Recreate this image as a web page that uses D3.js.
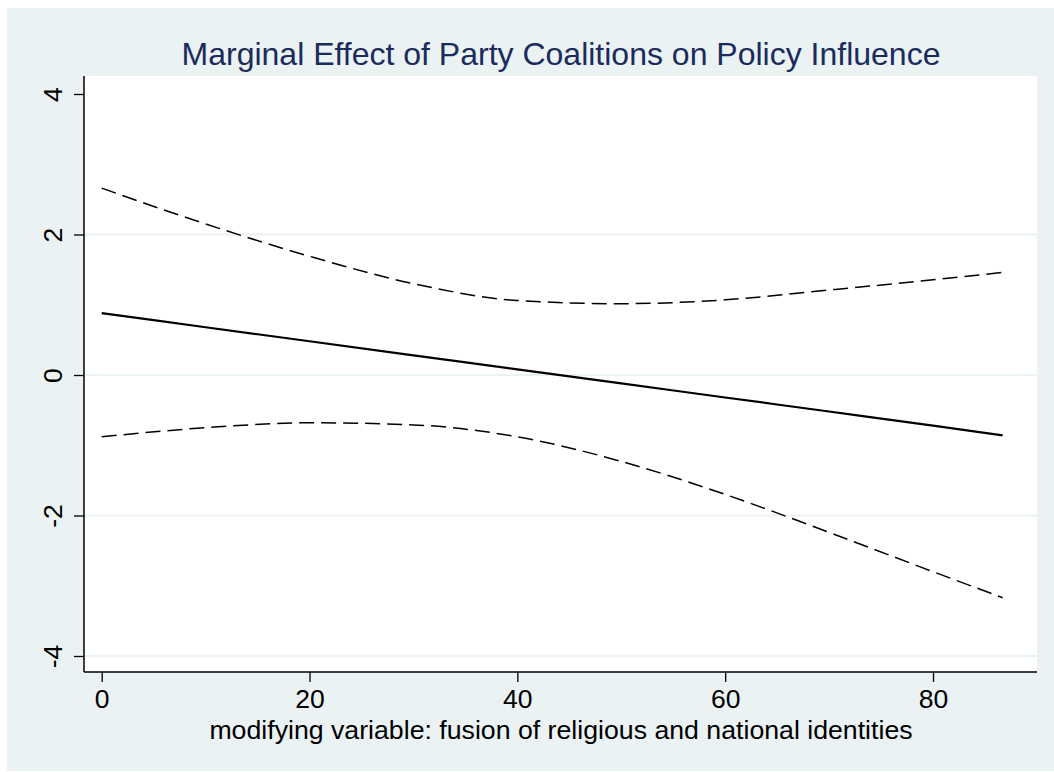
<!DOCTYPE html>
<html>
<head>
<meta charset="utf-8">
<script src="https://cdn.jsdelivr.net/npm/d3@7"></script>
<style>
  body { margin: 0; background: #fff; }
  svg text { font-family: "Liberation Sans", Arial, sans-serif; }
</style>
</head>
<body>
<svg id="chart" width="1054" height="772"></svg>
<script>
// values
var modifier = [0, 10, 20, 30, 40, 50, 60, 70, 80, 86.7];
var effect   = [0.88, 0.68, 0.48, 0.28, 0.08, -0.12, -0.32, -0.52, -0.72, -0.86];
var upperCI  = [2.66, 2.15, 1.69, 1.30, 1.06, 1.015, 1.07, 1.21, 1.355, 1.46];
var lowerCI  = [-0.88, -0.75, -0.68, -0.71, -0.88, -1.23, -1.70, -2.24, -2.80, -3.17];
var xTicks = [0, 20, 40, 60, 80];
var yTicks = [-4, -2, 0, 2, 4];
var yGrid  = [-4, -2, 0, 2];

var title = "Marginal Effect of Party Coalitions on Policy Influence";
var xTitle = "modifying variable: fusion of religious and national identities";

var svg = d3.select("#chart");

// plot region box
var plot = { left: 84, right: 1037, top: 76, bottom: 672 };

var x = d3.scaleLinear().domain([0, 80]).range([101.7, 933]);
var y = d3.scaleLinear().domain([-4, 4]).range([656, 94]);

// plain hyphen for negatives, like the original
var fmt = function(d) { return String(d); };

// outer background
svg.append("rect")
  .attr("x", 7).attr("y", 8)
  .attr("width", 1054 - 7).attr("height", 763)
  .attr("fill", "#eaf2f3");

// plot region
svg.append("rect")
  .attr("x", plot.left).attr("y", plot.top)
  .attr("width", plot.right - plot.left).attr("height", plot.bottom - plot.top)
  .attr("fill", "#ffffff");

// grid lines
svg.append("g").selectAll("line").data(yGrid).enter()
  .append("line")
  .attr("x1", plot.left).attr("x2", plot.right)
  .attr("y1", function(d) { return y(d); })
  .attr("y2", function(d) { return y(d); })
  .attr("stroke", "#eaf2f3")
  .attr("stroke-width", 2);

// y axis
var yAxis = d3.axisLeft(y).tickValues(yTicks).tickSize(10).tickFormat(fmt);
var gy = svg.append("g").attr("transform", "translate(" + plot.left + ",0)").call(yAxis);
gy.select(".domain").remove();
gy.selectAll(".tick line").attr("stroke", "#000").attr("stroke-width", 1.3);
gy.selectAll(".tick text")
  .attr("font-size", 26.5)
  .attr("fill", "#000")
  .attr("text-anchor", "middle")
  .attr("dy", null)
  .attr("x", null)
  .attr("transform", "translate(-31,0) rotate(-90)")
  .attr("y", 0)
  .attr("dominant-baseline", "central");
svg.append("line")
  .attr("x1", plot.left).attr("x2", plot.left)
  .attr("y1", plot.top).attr("y2", plot.bottom)
  .attr("stroke", "#000").attr("stroke-width", 1.5);

// x axis
var xAxis = d3.axisBottom(x).tickValues(xTicks).tickSize(10).tickPadding(7).tickFormat(fmt);
var gx = svg.append("g").attr("transform", "translate(0," + plot.bottom + ")").call(xAxis);
gx.select(".domain").remove();
gx.selectAll(".tick line").attr("stroke", "#000").attr("stroke-width", 1.3);
gx.selectAll(".tick text").attr("font-size", 26.5).attr("fill", "#000");
svg.append("line")
  .attr("x1", plot.left).attr("x2", plot.right)
  .attr("y1", plot.bottom).attr("y2", plot.bottom)
  .attr("stroke", "#000").attr("stroke-width", 1.5);

// lines
var pts = function(vals) {
  return modifier.map(function(m, i) { return [m, vals[i]]; });
};
var line = d3.line()
  .x(function(d) { return x(d[0]); })
  .y(function(d) { return y(d[1]); })
  .curve(d3.curveMonotoneX);

svg.append("path").datum(pts(upperCI))
  .attr("d", line).attr("fill", "none")
  .attr("stroke", "#000").attr("stroke-width", 1.5)
  .attr("stroke-dasharray", "15,7");
svg.append("path").datum(pts(lowerCI))
  .attr("d", line).attr("fill", "none")
  .attr("stroke", "#000").attr("stroke-width", 1.5)
  .attr("stroke-dasharray", "15,7");
svg.append("path").datum(pts(effect))
  .attr("d", line).attr("fill", "none")
  .attr("stroke", "#000").attr("stroke-width", 2.2);

// titles
svg.append("text")
  .attr("x", 561)
  .attr("y", 65)
  .attr("text-anchor", "middle")
  .attr("font-size", 32)
  .attr("fill", "#1a2b5c")
  .text(title);

svg.append("text")
  .attr("x", 561)
  .attr("y", 739)
  .attr("text-anchor", "middle")
  .attr("font-size", 26.7)
  .attr("fill", "#000")
  .text(xTitle);
</script>
</body>
</html>
